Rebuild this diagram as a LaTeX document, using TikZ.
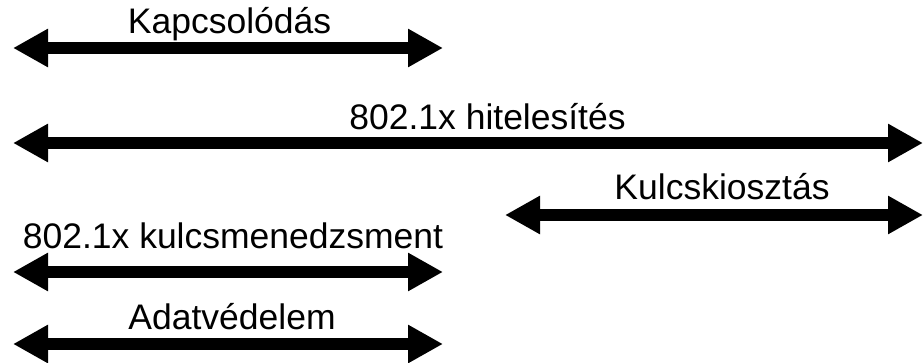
\documentclass[tikz,border=0pt]{standalone}
\usepackage{fontspec}
\setmainfont{Liberation Sans}
\usetikzlibrary{arrows.meta}
\begin{document}
\begin{tikzpicture}[x=1pt,y=-1pt,
  dbl/.style={line width=12pt, {Triangle[length=35pt,width=36pt]}-{Triangle[length=35pt,width=36pt]}},
  lbl/.style={anchor=base, inner sep=0pt, font=\fontsize{35.5}{40}\selectfont}]
\useasboundingbox (0,0) rectangle (924,363);
% endpoints
\coordinate (a1) at (13,48);  \coordinate (b1) at (443,48);
\coordinate (a2) at (13,143); \coordinate (b2) at (923,143);
\coordinate (a3) at (505,215); \coordinate (b3) at (923,215);
\coordinate (a4) at (13,272); \coordinate (b4) at (443,272);
\coordinate (a5) at (13,344); \coordinate (b5) at (443,344);
\draw[dbl] (a1) -- (b1);
\draw[dbl] (a2) -- (b2);
\draw[dbl] (a3) -- (b3);
\draw[dbl] (a4) -- (b4);
\draw[dbl] (a5) -- (b5);
% labels
\node[lbl] (t1) at (229.5,33.5) {Kapcsolódás};
\node[lbl] (t2) at (487.5,129.5) {802.1x hitelesítés};
\node[lbl] (t3) at (722,199.5) {Kulcskiosztás};
\node[lbl] (t4) at (233,248.5) {802.1x kulcsmenedzsment};
\node[lbl] (t5) at (232,330) {Adatvédelem};
\end{tikzpicture}
\end{document}
